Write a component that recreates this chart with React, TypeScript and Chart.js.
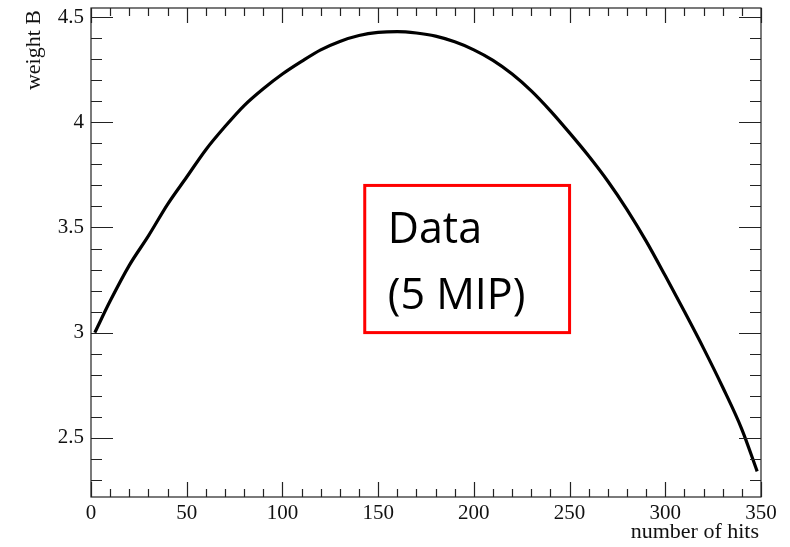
import React, { useEffect, useRef } from "react";
import { Chart, registerables } from "chart.js";

Chart.register(...registerables);

// Curve samples
const hits = [2, 10, 20, 30, 40, 50, 60, 70, 80, 90, 100, 110, 120, 130, 140, 150, 160, 170, 180, 190, 200, 210, 220, 230, 240, 250, 260, 270, 280, 290, 300, 310, 320, 330, 340, 348];
const weightB = [3.0, 3.15, 3.32, 3.46, 3.61, 3.74, 3.87, 3.98, 4.08, 4.16, 4.23, 4.29, 4.345, 4.385, 4.413, 4.428, 4.432, 4.425, 4.41, 4.383, 4.345, 4.295, 4.23, 4.15, 4.055, 3.95, 3.84, 3.72, 3.585, 3.435, 3.27, 3.1, 2.925, 2.74, 2.54, 2.34];

const xMajorTicks = [0, 50, 100, 150, 200, 250, 300, 350];
const yMajorTicks = [2.5, 3, 3.5, 4, 4.5];
const xMinorStep = 10;
const yMinorStep = 0.1;

const xTitle = "number of hits";
const yTitle = "weight B";
const boxLines = ["Data", "(5 MIP)"];
const boxRange = { x0: 143, x1: 250, y0: 3.0, y1: 3.7 };

const SERIF = "'Liberation Serif', 'DejaVu Serif', serif";

const rootStyle = {
  id: "rootStyle",
  afterDraw(chart: any) {
    const { ctx, chartArea } = chart;
    const xs = chart.scales.x;
    const ys = chart.scales.y;
    const { left, right, top, bottom } = chartArea;
    ctx.save();
    ctx.strokeStyle = "#222";
    ctx.lineWidth = 1.2;
    // frame
    ctx.strokeRect(left, top, right - left, bottom - top);
    ctx.beginPath();
    // x ticks (bottom and top, inside)
    for (let v = xs.min; v <= xs.max + 1e-6; v += xMinorStep) {
      const isMajor = xMajorTicks.some((m) => Math.abs(m - v) < 1e-6);
      const len = isMajor ? 15 : 8;
      const px = Math.round(xs.getPixelForValue(v)) + 0.5;
      ctx.moveTo(px, bottom);
      ctx.lineTo(px, bottom - len);
      ctx.moveTo(px, top);
      ctx.lineTo(px, top + len);
    }
    // y ticks (left and right, inside)
    const start = Math.ceil(ys.min / yMinorStep - 1e-6) * yMinorStep;
    for (let v = start; v <= ys.max + 1e-6; v += yMinorStep) {
      const isMajor = yMajorTicks.some((m) => Math.abs(m - v) < 1e-6);
      const len = isMajor ? 22 : 11;
      const py = Math.round(ys.getPixelForValue(v)) + 0.5;
      ctx.moveTo(left, py);
      ctx.lineTo(left + len, py);
      ctx.moveTo(right, py);
      ctx.lineTo(right - len, py);
    }
    ctx.stroke();

    // axis titles
    ctx.fillStyle = "#111";
    ctx.font = `22px ${SERIF}`;
    ctx.textAlign = "right";
    ctx.textBaseline = "alphabetic";
    ctx.fillText(xTitle, right - 2, bottom + 41);
    ctx.save();
    ctx.translate(left - 51, top + 2);
    ctx.rotate(-Math.PI / 2);
    ctx.textAlign = "right";
    ctx.fillText(yTitle, 0, 0);
    ctx.restore();

    // annotation box
    const bx0 = xs.getPixelForValue(boxRange.x0);
    const bx1 = xs.getPixelForValue(boxRange.x1);
    const by0 = ys.getPixelForValue(boxRange.y1);
    const by1 = ys.getPixelForValue(boxRange.y0);
    ctx.fillStyle = "#fff";
    ctx.fillRect(bx0, by0, bx1 - bx0, by1 - by0);
    ctx.strokeStyle = "#ff0000";
    ctx.lineWidth = 3;
    ctx.strokeRect(bx0, by0, bx1 - bx0, by1 - by0);
    ctx.fillStyle = "#000";
    ctx.font = `43px 'Open Sans', 'Noto Sans', sans-serif`;
    ctx.textAlign = "left";
    ctx.fillText(boxLines[0], bx0 + 23, by0 + 58);
    ctx.fillText(boxLines[1], bx0 + 23, by0 + 124);
    ctx.restore();
  },
};

export default function App() {
  const ref = useRef<HTMLCanvasElement>(null);
  useEffect(() => {
    if (!ref.current) return;
    const chart = new Chart(ref.current, {
      type: "line",
      data: {
        datasets: [
          {
            data: hits.map((x, i) => ({ x, y: weightB[i] })),
            borderColor: "#000",
            borderWidth: 3.2,
            pointRadius: 0,
            cubicInterpolationMode: "monotone",
            fill: false,
          },
        ],
      },
      options: {
        animation: false,
        responsive: true,
        maintainAspectRatio: false,
        events: [],
        layout: { padding: { top: 8, right: 29, left: 0, bottom: 0 } },
        plugins: { legend: { display: false }, tooltip: { enabled: false } },
        scales: {
          x: {
            type: "linear",
            min: 0,
            max: 350,
            grid: { display: false, drawTicks: false },
            border: { display: false },
            afterBuildTicks: (s: any) => {
              s.ticks = xMajorTicks.map((value) => ({ value }));
            },
            afterFit: (s: any) => {
              s.height = 50;
              s.paddingLeft = 0;
              s.paddingRight = 0;
            },
            ticks: {
              padding: 4,
              maxRotation: 0,
              autoSkip: false,
              color: "#111",
              font: { family: SERIF, size: 21 },
              callback: (v: any) => String(v),
            },
          },
          y: {
            type: "linear",
            min: 2.218,
            max: 4.544,
            grid: { display: false, drawTicks: false },
            border: { display: false },
            afterBuildTicks: (s: any) => {
              s.ticks = yMajorTicks.map((value) => ({ value }));
            },
            afterFit: (s: any) => {
              s.width = 91;
              s.paddingTop = 0;
              s.paddingBottom = 0;
            },
            ticks: {
              padding: 7,
              autoSkip: false,
              color: "#111",
              font: { family: SERIF, size: 21 },
              callback: (v: any) => String(v),
            },
          },
        },
      },
      plugins: [rootStyle],
    });
    return () => chart.destroy();
  }, []);
  return (
    <div style={{ position: "fixed", left: 0, top: 0, width: 790, height: 547, background: "#fff" }}>
      <canvas ref={ref} />
    </div>
  );
}
